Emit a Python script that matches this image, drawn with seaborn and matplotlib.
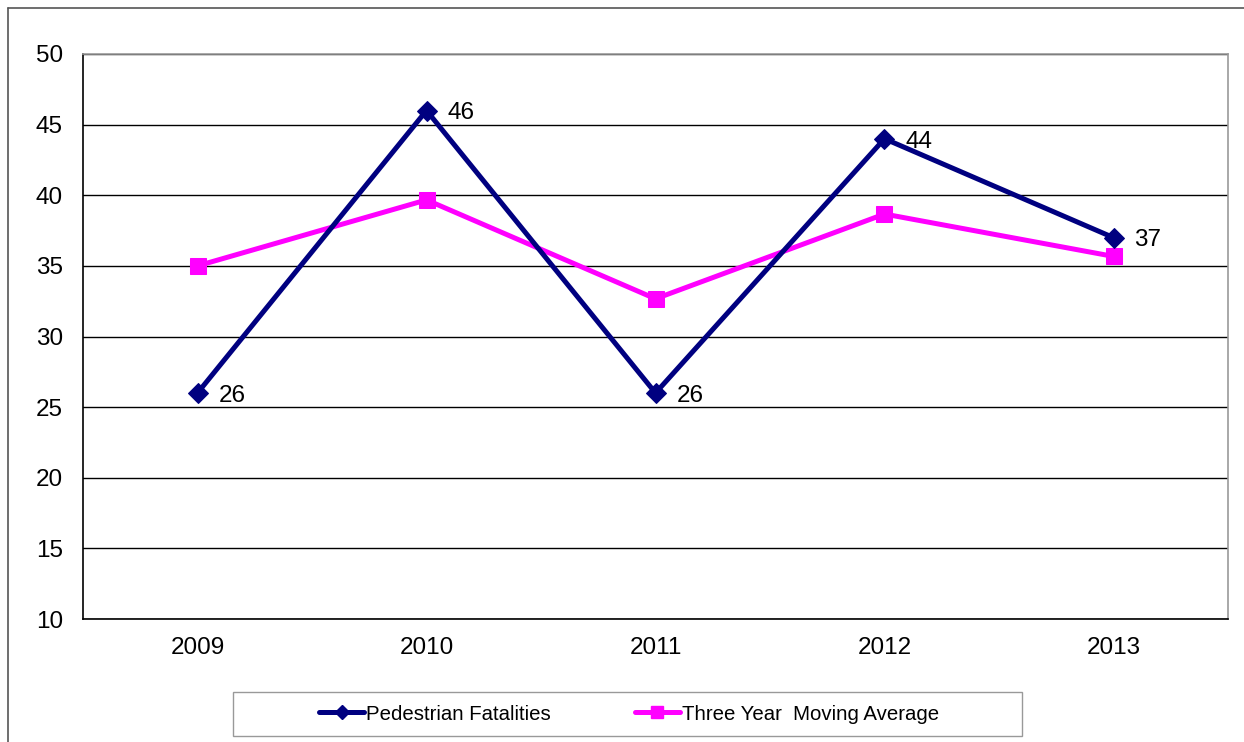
import numpy as np
import pandas as pd
import matplotlib
matplotlib.use("Agg")
import matplotlib.pyplot as plt
from matplotlib.lines import Line2D
from matplotlib.patches import Rectangle
import seaborn as sns

# chart data
years = ["2009", "2010", "2011", "2012", "2013"]
fatalities = [26, 46, 26, 44, 37]
moving_avg = [35.0, 39.67, 32.67, 38.67, 35.67]

sns.set_style("white")
plt.rcParams["font.family"] = ["Liberation Sans", "DejaVu Sans"]
plt.rcParams["text.color"] = "black"

df = pd.DataFrame({
    "idx": np.arange(len(years)),
    "Pedestrian Fatalities": fatalities,
    "Three Year  Moving Average": moving_avg,
})

fig = plt.figure(figsize=(12.44, 7.42), dpi=100)
W, H = 1244, 742
ax = fig.add_axes([83 / W, 1 - 619 / H, (1228 - 83) / W, (619 - 54) / H])

navy = "#000080"
magenta = "#FF00FF"

sns.lineplot(data=df, x="idx", y="Three Year  Moving Average", ax=ax,
             color=magenta, lw=3.6, marker="s", markersize=12,
             markeredgecolor=magenta, zorder=3)
sns.lineplot(data=df, x="idx", y="Pedestrian Fatalities", ax=ax,
             color=navy, lw=3.6, marker="D", markersize=10,
             markeredgecolor=navy, zorder=4)

for i, v in enumerate(fatalities):
    ax.annotate(str(v), (i, v), xytext=(15, -2), textcoords="offset points",
                ha="left", va="center", fontsize=17.5, color="black")

ax.set_xlim(-0.5, len(years) - 0.5)
ax.set_ylim(10, 50)
ax.set_yticks(range(10, 51, 5))
ax.set_xticks(range(len(years)))
ax.set_xticklabels(years)
ax.set_xticks(np.arange(-0.5, len(years), 1), minor=True)
ax.tick_params(axis="x", which="major", length=0, pad=13, labelsize=17.5, labelcolor="black")
ax.tick_params(axis="x", which="minor", length=7, width=1, color="black", direction="out")
ax.tick_params(axis="y", length=6, width=1, color="black", direction="out",
               labelsize=17.5, labelcolor="black", pad=8.5)
ax.set_xlabel("")
ax.set_ylabel("")

ax.yaxis.grid(True, color="black", lw=1)
ax.set_axisbelow(True)
for side in ["left", "bottom"]:
    ax.spines[side].set_color("black")
    ax.spines[side].set_linewidth(1.2)
for side in ["top", "right"]:
    ax.spines[side].set_color("#999999")
    ax.spines[side].set_linewidth(1.2)

# outer chart border (left and top visible)
fig.add_artist(Line2D([8 / W, 8 / W], [0, 1 - 8 / H], color="#555555", lw=1.2))
fig.add_artist(Line2D([8 / W, 1], [1 - 8 / H, 1 - 8 / H], color="#555555", lw=1.2))

# legend box
fig.add_artist(Rectangle((233 / W, 1 - 736 / H), (1022 - 233) / W, 44 / H,
                         transform=fig.transFigure, fill=False, edgecolor="#999999", lw=1))
handles = [
    Line2D([], [], color=navy, lw=3.6, marker="D", markersize=7),
    Line2D([], [], color=magenta, lw=3.6, marker="s", markersize=9),
]
fig.legend(handles, ["Pedestrian Fatalities", "Three Year  Moving Average"],
           loc="center", bbox_to_anchor=(629 / W, 1 - 714 / H), ncol=2,
           frameon=False, fontsize=14.7, handlelength=2.2, handletextpad=0.1,
           columnspacing=4.1)

fig.savefig("out.png", dpi=100)
